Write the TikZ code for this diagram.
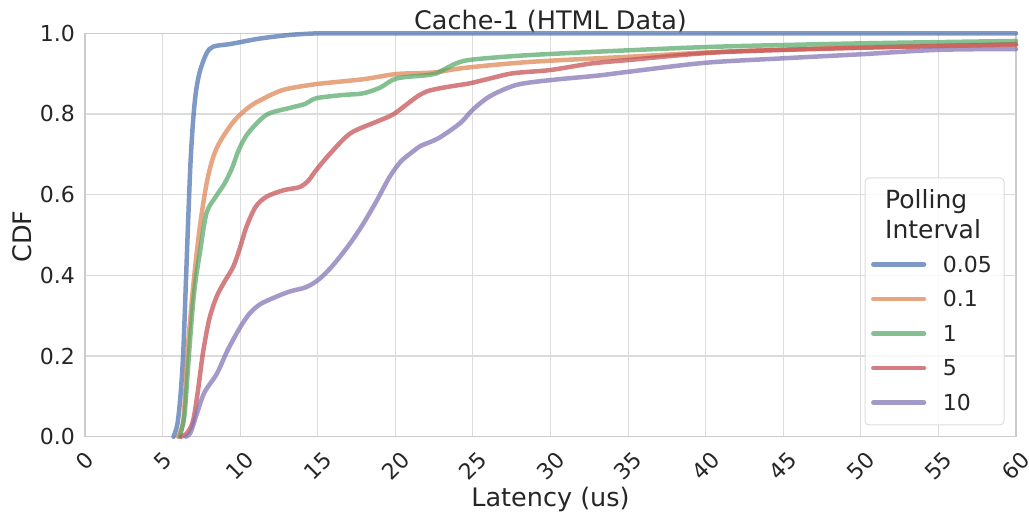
\documentclass[tikz,border=0pt]{standalone}
\usepackage{fontspec}
\setmainfont{DejaVu Sans}
\usepackage{graphicx}

\definecolor{textgray}{HTML}{262626}
\definecolor{gridgray}{HTML}{DCDCDC}
\definecolor{spinegray}{HTML}{CCCCCC}
\definecolor{ivA}{RGB}{76,114,176}
\definecolor{ivB}{RGB}{221,132,82}
\definecolor{ivC}{RGB}{85,168,104}
\definecolor{ivD}{RGB}{196,78,82}
\definecolor{ivE}{RGB}{129,114,179}

\begin{document}
\begin{tikzpicture}[x=15.517pt, y=403.4pt,
    gridline/.style={draw=gridgray, line width=1.1pt},
    spine/.style={draw=spinegray, line width=1.3pt},
    curve/.style={line width=4.5pt, draw opacity=0.72, line join=round, line cap=round},
    xticklabel/.style={text=textgray, inner sep=0pt, anchor=north, font=\fontsize{22}{26}\selectfont},
    yticklabel/.style={text=textgray, inner sep=0pt, anchor=east, font=\fontsize{22}{26}\selectfont},
    axislabel/.style={text=textgray, inner sep=0pt, anchor=base, font=\fontsize{25.5}{30}\selectfont},
    legendbox/.style={draw=gridgray, line width=1pt, fill=white, fill opacity=0.8, rounded corners=4pt},
    legendtitle/.style={text=textgray, inner sep=0pt, anchor=base west, font=\fontsize{25}{30}\selectfont},
    legendtext/.style={text=textgray, inner sep=0pt, anchor=west, font=\fontsize{22}{26}\selectfont}]

    \useasboundingbox (-85pt,-80.3pt) rectangle (944pt,436.7pt);

    % Draw grid
    \foreach \gx in {5,10,...,55}
        \draw[gridline] (\gx,0) -- (\gx,1);
    \foreach \gy in {0.2,0.4,0.6,0.8}
        \draw[gridline] (0,\gy) -- (60,\gy);
    \draw[spine] (0,0) rectangle (60,1);

    % Draw tick labels
    \foreach \gx in {0,5,...,60}
        \node[xticklabel] (xt\gx) at (\gx,0) [yshift=-13.5pt] {\rotatebox{45}{\gx}};
    \foreach \gy/\lab [count=\i] in {0/0.0,0.2/0.2,0.4/0.4,0.6/0.6,0.8/0.8,1/1.0}
        \node[yticklabel] (yt\i) at (0,\gy) [xshift=-10pt] {\lab};

    % Draw axis labels and title
    \node[axislabel] (title) at (465.5pt,407.4pt) {Cache-1 (HTML Data)};
    \node[axislabel] (xlabel) at (465.5pt,-70pt) {Latency (us)};
    \node[axislabel, rotate=90] (ylabel) at (-53pt,200pt) {CDF};

    % Draw curves
    \draw[curve, ivA] plot[smooth, tension=0.5] coordinates {(5.7,0) (5.95,0.03) (6.15,0.1) (6.33,0.207) (6.5,0.38) (6.65,0.537) (6.8,0.68) (6.97,0.785) (7.15,0.855) (7.4,0.905) (7.83,0.95) (8.26,0.967) (9.3,0.973) (10,0.978) (11.27,0.987) (13.2,0.996) (15,1)} -- (60,1);
    \draw[curve, ivB] plot[smooth, tension=0.5] coordinates {(6.0,0) (6.3,0.03) (6.45,0.1) (6.6,0.207) (6.97,0.372) (7.4,0.52) (7.9,0.64) (8.48,0.715) (9.55,0.78) (10.6,0.818) (11.5,0.838) (12.8,0.86) (14.9,0.874) (17.9,0.886) (20.07,0.899) (22.5,0.903) (24.4,0.914) (28.65,0.929) (35.1,0.942) (41.5,0.955) (50,0.965) (60,0.973)};
    \draw[curve, ivC] plot[smooth, tension=0.5] coordinates {(6.1,0) (6.4,0.05) (6.6,0.15) (6.87,0.289) (7.1,0.38) (7.4,0.455) (7.83,0.554) (8.48,0.598) (9.0,0.628) (9.5,0.668) (9.9,0.71) (10.5,0.752) (11.7,0.798) (13.2,0.815) (14.2,0.825) (14.9,0.839) (16.6,0.847) (17.9,0.851) (19,0.865) (20.07,0.888) (22.0,0.896) (22.6,0.9) (23.9,0.925) (25,0.935) (28.65,0.946) (35.1,0.958) (40.9,0.967) (50,0.975) (60,0.981)};
    \draw[curve, ivD] plot[smooth, tension=0.5] coordinates {(6.2,0) (6.6,0.01) (6.97,0.04) (7.3,0.12) (7.6,0.207) (8.0,0.29) (8.48,0.347) (9.0,0.385) (9.55,0.421) (10.0,0.47) (10.4,0.52) (11.0,0.57) (11.7,0.595) (12.8,0.611) (13.85,0.619) (14.4,0.635) (14.9,0.661) (15.8,0.702) (17.1,0.752) (18.8,0.781) (19.9,0.80) (21.4,0.843) (22.2,0.858) (23.5,0.868) (24.8,0.876) (26.1,0.888) (27.6,0.901) (30,0.909) (32.6,0.925) (35.1,0.934) (40.9,0.953) (50,0.964) (60,0.972)};
    \draw[curve, ivE] plot[smooth, tension=0.5] coordinates {(6.5,0) (6.8,0.01) (7.2,0.056) (7.7,0.11) (8.48,0.155) (9.2,0.215) (9.98,0.27) (10.6,0.305) (11.27,0.328) (12.2,0.345) (13.2,0.36) (14.2,0.37) (14.9,0.385) (15.5,0.405) (16.2,0.435) (17.1,0.48) (17.9,0.526) (18.8,0.585) (19.6,0.642) (20.3,0.68) (20.9,0.70) (21.6,0.72) (22.4,0.733) (23.0,0.745) (24.2,0.778) (25,0.811) (26.1,0.844) (27.8,0.872) (30,0.884) (33,0.895) (35.1,0.905) (40,0.927) (45,0.938) (50,0.948) (55,0.959) (60,0.961)};

    % Draw legend
    \draw[legendbox] (780pt,11.7pt) rectangle (919pt,258.7pt);
    \node[legendtitle] (legtitleA) at (800pt,228.4pt) {Polling};
    \node[legendtitle] (legtitleB) at (800pt,198.4pt) {Interval};
    \foreach \lab/\col [count=\i] in {0.05/ivA,0.1/ivB,1/ivC,5/ivD,10/ivE} {
        \pgfmathsetmacro\ly{172.4-34.6*(\i-1)}
        \draw[curve, \col] (788.3pt,\ly pt) -- (839pt,\ly pt);
        \node[legendtext] (leg\i) at (857.7pt,\ly pt) {\lab};
    }
\end{tikzpicture}
\end{document}
